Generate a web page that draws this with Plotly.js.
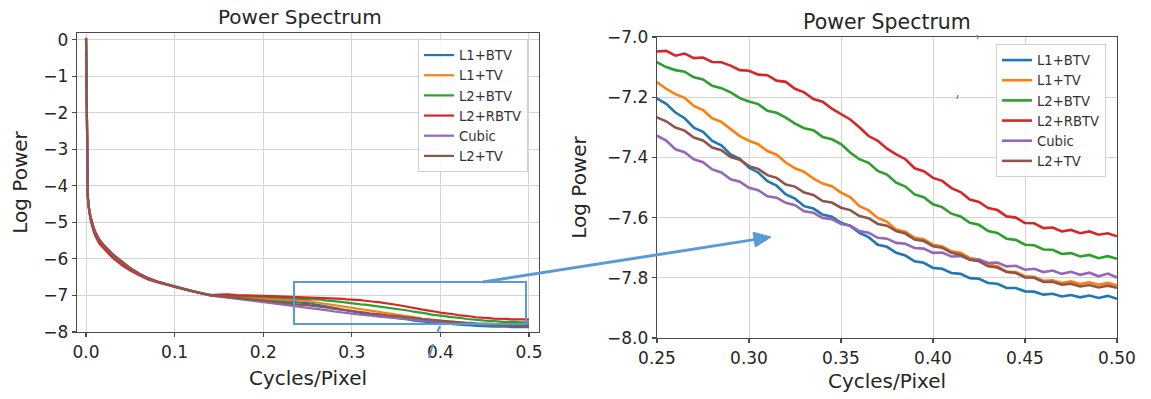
<!DOCTYPE html>
<html><head><meta charset="utf-8">
<script src="https://cdn.plot.ly/plotly-3.0.1.min.js"></script>
<style>html,body{margin:0;padding:0;background:#fff;} #chart{width:1151px;height:399px;}</style>
</head><body><div id="chart"></div>
<script>
// ---- data ----
const freq = [0, 0.001, 0.002, 0.003, 0.005, 0.008, 0.01, 0.015, 0.02, 0.03, 0.04, 0.05, 0.06, 0.07, 0.08, 0.09, 0.10, 0.11, 0.12, 0.13, 0.14,
  0.15, 0.16, 0.17, 0.18, 0.19, 0.20, 0.21, 0.22, 0.23, 0.24,
  0.250, 0.255, 0.260, 0.265, 0.270, 0.275, 0.280, 0.285, 0.290, 0.295,
  0.300, 0.305, 0.310, 0.315, 0.320, 0.325, 0.330, 0.335, 0.340, 0.345,
  0.350, 0.355, 0.360, 0.365, 0.370, 0.375, 0.380, 0.385, 0.390, 0.395,
  0.400, 0.405, 0.410, 0.415, 0.420, 0.425, 0.430, 0.435, 0.440, 0.445,
  0.450, 0.455, 0.460, 0.465, 0.470, 0.475, 0.480, 0.485, 0.490, 0.495, 0.500];

const seriesNames = ['L1+BTV', 'L1+TV', 'L2+BTV', 'L2+RBTV', 'Cubic', 'L2+TV'];
const seriesColors = ['#1f77b4', '#ff7f0e', '#2ca02c', '#d62728', '#9467bd', '#8c564b'];

const l1btv = [0.04, -3.6, -4.3, -4.55, -4.85, -5.1, -5.25, -5.48, -5.63, -5.88, -6.08, -6.26, -6.41, -6.53, -6.62, -6.69, -6.76, -6.82, -6.88, -6.94, -6.99,
  -7.02, -7.03, -7.05, -7.07, -7.09, -7.11, -7.13, -7.15, -7.17, -7.19,
  -7.204, -7.222, -7.251, -7.270, -7.301, -7.315, -7.345, -7.360, -7.390, -7.405,
  -7.434, -7.450, -7.479, -7.494, -7.523, -7.537, -7.562, -7.570, -7.590, -7.597,
  -7.617, -7.628, -7.651, -7.665, -7.690, -7.697, -7.717, -7.726, -7.745, -7.750,
  -7.767, -7.770, -7.784, -7.787, -7.801, -7.803, -7.817, -7.820, -7.834, -7.834,
  -7.845, -7.846, -7.856, -7.853, -7.862, -7.857, -7.865, -7.859, -7.867, -7.860, -7.870];

const l1tv = [0.04, -3.6, -4.3, -4.56, -4.86, -5.11, -5.26, -5.49, -5.64, -5.89, -6.09, -6.27, -6.41, -6.53, -6.62, -6.70, -6.76, -6.82, -6.88, -6.94, -6.99,
  -7.01, -7.02, -7.04, -7.05, -7.07, -7.08, -7.10, -7.11, -7.13, -7.14,
  -7.150, -7.172, -7.190, -7.202, -7.229, -7.243, -7.270, -7.282, -7.304, -7.329,
  -7.345, -7.356, -7.379, -7.391, -7.417, -7.436, -7.448, -7.470, -7.487, -7.496,
  -7.517, -7.532, -7.562, -7.576, -7.601, -7.614, -7.640, -7.647, -7.667, -7.672,
  -7.690, -7.695, -7.712, -7.717, -7.734, -7.739, -7.756, -7.762, -7.779, -7.781,
  -7.795, -7.797, -7.810, -7.808, -7.817, -7.812, -7.821, -7.815, -7.823, -7.817, -7.825];

const l2btv = [0.04, -3.6, -4.3, -4.57, -4.88, -5.13, -5.28, -5.51, -5.66, -5.91, -6.11, -6.28, -6.42, -6.54, -6.63, -6.70, -6.76, -6.82, -6.88, -6.94, -6.99,
  -6.99, -7.00, -7.01, -7.02, -7.03, -7.04, -7.05, -7.06, -7.07, -7.08,
  -7.084, -7.100, -7.110, -7.115, -7.134, -7.141, -7.162, -7.170, -7.184, -7.203,
  -7.214, -7.223, -7.245, -7.252, -7.268, -7.288, -7.303, -7.310, -7.332, -7.340,
  -7.356, -7.384, -7.406, -7.418, -7.445, -7.457, -7.484, -7.497, -7.523, -7.532,
  -7.556, -7.565, -7.587, -7.596, -7.617, -7.624, -7.645, -7.651, -7.670, -7.674,
  -7.690, -7.692, -7.706, -7.707, -7.721, -7.718, -7.729, -7.724, -7.735, -7.728, -7.737];

const l2rbtv = [0.04, -3.6, -4.32, -4.6, -4.93, -5.2, -5.35, -5.58, -5.72, -5.97, -6.16, -6.32, -6.45, -6.56, -6.64, -6.71, -6.77, -6.83, -6.89, -6.95, -6.99,
  -6.98, -6.97, -6.99, -6.99, -7.01, -7.01, -7.02, -7.03, -7.04, -7.04,
  -7.048, -7.046, -7.062, -7.055, -7.070, -7.068, -7.083, -7.084, -7.095, -7.110,
  -7.112, -7.125, -7.127, -7.145, -7.149, -7.172, -7.184, -7.206, -7.215, -7.238,
  -7.255, -7.274, -7.300, -7.329, -7.345, -7.371, -7.390, -7.406, -7.436, -7.446,
  -7.468, -7.478, -7.502, -7.515, -7.540, -7.548, -7.568, -7.575, -7.596, -7.600,
  -7.618, -7.619, -7.635, -7.633, -7.646, -7.641, -7.652, -7.646, -7.657, -7.652, -7.662];

const cubic = [0.04, -3.6, -4.3, -4.55, -4.85, -5.1, -5.25, -5.48, -5.63, -5.88, -6.08, -6.26, -6.41, -6.53, -6.62, -6.69, -6.76, -6.82, -6.88, -6.94, -7.0,
  -7.03, -7.06, -7.09, -7.12, -7.15, -7.18, -7.21, -7.25, -7.28, -7.31,
  -7.328, -7.344, -7.373, -7.383, -7.406, -7.416, -7.440, -7.450, -7.473, -7.481,
  -7.501, -7.509, -7.529, -7.534, -7.551, -7.559, -7.579, -7.584, -7.601, -7.605,
  -7.621, -7.626, -7.645, -7.650, -7.667, -7.670, -7.684, -7.687, -7.701, -7.703,
  -7.717, -7.716, -7.729, -7.728, -7.740, -7.739, -7.751, -7.749, -7.762, -7.760,
  -7.773, -7.770, -7.781, -7.776, -7.787, -7.780, -7.790, -7.783, -7.795, -7.786, -7.799];

const l2tv = [0.05, -3.6, -4.3, -4.55, -4.84, -5.09, -5.24, -5.47, -5.62, -5.87, -6.07, -6.25, -6.40, -6.52, -6.61, -6.69, -6.76, -6.82, -6.88, -6.94, -7.0,
  -7.02, -7.04, -7.06, -7.09, -7.11, -7.14, -7.17, -7.20, -7.22, -7.25,
  -7.267, -7.280, -7.301, -7.311, -7.334, -7.344, -7.367, -7.376, -7.399, -7.408,
  -7.429, -7.438, -7.459, -7.468, -7.490, -7.497, -7.517, -7.525, -7.545, -7.550,
  -7.567, -7.575, -7.595, -7.602, -7.621, -7.627, -7.645, -7.653, -7.673, -7.678,
  -7.695, -7.700, -7.717, -7.723, -7.740, -7.745, -7.762, -7.766, -7.781, -7.784,
  -7.799, -7.800, -7.814, -7.813, -7.823, -7.820, -7.829, -7.824, -7.832, -7.826, -7.833];

const seriesValues = [l1btv, l1tv, l2btv, l2rbtv, cubic, l2tv];

const leftXTicks = [0, 0.1, 0.2, 0.3, 0.4, 0.5];
const leftYTicks = [0, -1, -2, -3, -4, -5, -6, -7, -8];
const rightXTicks = [0.25, 0.30, 0.35, 0.40, 0.45, 0.50];
const rightYTicks = [-7.0, -7.2, -7.4, -7.6, -7.8, -8.0];

// ---- layout helpers ----
const W = 1151, H = 399;
const px = v => v / W;
const py = v => 1 - v / H;
const FONT = 'DejaVu Sans';
const TXT = '#262626';

const traces = [];
seriesNames.forEach((name, i) => {
  traces.push({x: freq, y: seriesValues[i], name: name, type: 'scatter', mode: 'lines',
    line: {color: seriesColors[i], width: 2.2}, xaxis: 'x', yaxis: 'y', legend: 'legend'});
});
seriesNames.forEach((name, i) => {
  traces.push({x: freq, y: seriesValues[i], name: name, type: 'scatter', mode: 'lines',
    line: {color: seriesColors[i], width: 2.6}, xaxis: 'x2', yaxis: 'y2', legend: 'legend2'});
});

const axBase = {
  showline: true, linecolor: '#4a4a4a', linewidth: 1.3, mirror: true,
  ticks: 'outside', ticklen: 4, tickwidth: 1.2, tickcolor: '#4a4a4a',
  showgrid: true, gridcolor: '#d4d4d4', gridwidth: 1, zeroline: false,
  tickfont: {family: FONT, size: 17, color: TXT}, fixedrange: true
};
const axTitleFont = {family: FONT, size: 20, color: TXT};

const legBase = {
  xanchor: 'left', yanchor: 'top', bgcolor: 'rgba(255,255,255,0.85)',
  bordercolor: '#d0d0d0', borderwidth: 1, tracegroupgap: 0,
  font: {family: FONT, size: 13.2, color: '#333'}
};

// arrow geometry (pixel space)
const tail = [483, 282], tip = [771, 237];
const dx = tip[0] - tail[0], dy = tip[1] - tail[1];
const len = Math.hypot(dx, dy);
const ux = dx / len, uy = dy / len;
const headL = 17, headW = 7.5;
const bx = tip[0] - ux * headL, by = tip[1] - uy * headL;
const c1 = [bx - uy * headW, by + ux * headW], c2 = [bx + uy * headW, by - ux * headW];
const arrowColor = '#5b9bd5';

const stroke = (x0, y0, x1, y1, w) => ({type: 'line', xref: 'paper', yref: 'paper',
  x0: px(x0), y0: py(y0), x1: px(x1), y1: py(y1), line: {color: arrowColor, width: w}, layer: 'above'});

const layout = {
  width: W, height: H, margin: {l: 0, r: 0, t: 0, b: 0},
  paper_bgcolor: '#fff', plot_bgcolor: '#fff',
  font: {family: FONT, color: TXT},
  xaxis: Object.assign({}, axBase, {domain: [px(77), px(539)], range: [-0.0102, 0.5113], anchor: 'y',
    tickvals: leftXTicks, tickformat: '.1f',
    title: {text: 'Cycles/Pixel', font: axTitleFont, standoff: 10}}),
  yaxis: Object.assign({}, axBase, {domain: [py(332), py(33)], range: [-8, 0.18], anchor: 'x',
    tickvals: leftYTicks, tickformat: 'd',
    title: {text: 'Log Power', font: axTitleFont, standoff: 10}}),
  xaxis2: Object.assign({}, axBase, {domain: [px(657), px(1117)], range: [0.25, 0.5], anchor: 'y2',
    tickvals: rightXTicks, tickformat: '.2f',
    title: {text: 'Cycles/Pixel', font: axTitleFont, standoff: 7}}),
  yaxis2: Object.assign({}, axBase, {domain: [py(338), py(37)], range: [-8, -7], anchor: 'x2',
    tickvals: rightYTicks, tickformat: '.1f',
    title: {text: 'Log Power', font: axTitleFont, standoff: 15}}),
  legend: Object.assign({}, legBase, {x: px(418), y: py(39)}),
  legend2: Object.assign({}, legBase, {x: px(996), y: py(44)}),
  annotations: [
    {text: 'Power Spectrum', xref: 'paper', yref: 'paper', x: px(300), y: py(17), xanchor: 'center', yanchor: 'middle',
      showarrow: false, font: {family: FONT, size: 20, color: TXT}},
    {text: 'Power Spectrum', xref: 'paper', yref: 'paper', x: px(887), y: py(22), xanchor: 'center', yanchor: 'middle',
      showarrow: false, font: {family: FONT, size: 20.5, color: TXT}}
  ],
  shapes: [
    {type: 'rect', xref: 'paper', yref: 'paper', x0: px(294), x1: px(526), y0: py(324), y1: py(282),
      line: {color: arrowColor, width: 2}, fillcolor: 'rgba(0,0,0,0)', layer: 'above'},
    {type: 'line', xref: 'paper', yref: 'paper', x0: px(tail[0]), y0: py(tail[1]), x1: px(bx), y1: py(by),
      line: {color: arrowColor, width: 3}, layer: 'above'},
    {type: 'path', xref: 'paper', yref: 'paper',
      path: `M${px(tip[0])},${py(tip[1])} L${px(c1[0])},${py(c1[1])} L${px(c2[0])},${py(c2[1])} Z`,
      fillcolor: arrowColor, line: {color: arrowColor, width: 1}, layer: 'above'},
    stroke(440, 326, 437, 333, 2),
    stroke(433, 344, 429, 358, 2),
    stroke(977, 35, 978, 39, 1.5),
    stroke(957, 99, 958, 95, 1.5)
  ],
  showlegend: true
};

Plotly.newPlot('chart', traces, layout, {displayModeBar: false, staticPlot: true});
</script>
</body></html>
